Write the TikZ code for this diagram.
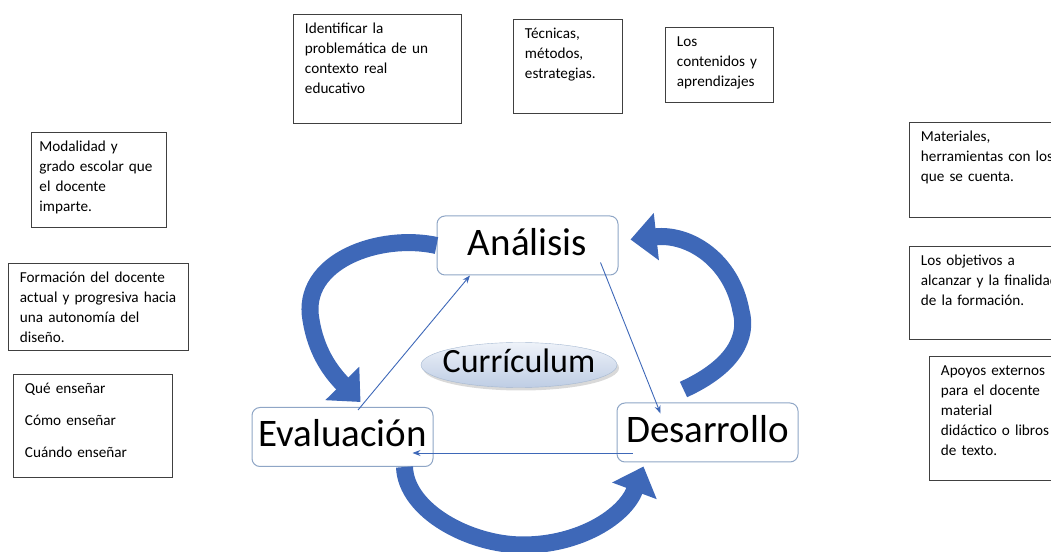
\documentclass[tikz,border=0pt]{standalone}
\usepackage{fontspec}
\setmainfont{Carlito}
\usetikzlibrary{arrows.meta,shapes.geometric,shadows}
\definecolor{azul}{RGB}{62,104,184}
\definecolor{bordeetapa}{RGB}{143,166,198}
\definecolor{elipsearriba}{RGB}{238,242,249}
\definecolor{elipseabajo}{RGB}{190,205,228}
\begin{document}
\begin{tikzpicture}[x=1pt,y=1pt,
caja/.style={draw=black!75, line width=0.9pt, anchor=north west, align=left, inner xsep=11.5pt, inner ysep=7pt, text height=12pt, font=\fontsize{15.2}{20}\selectfont},
etapa/.style={draw=bordeetapa, line width=1pt, fill=white, rounded corners=8pt, minimum width=181pt, minimum height=59pt, inner xsep=4pt, text height=26pt, text depth=6pt, font=\fontsize{39}{44}\selectfont},
curri/.style={ellipse, draw=bordeetapa!80, top color=elipsearriba, bottom color=elipseabajo, drop shadow={opacity=0.3,shadow xshift=2pt,shadow yshift=-3pt}, minimum width=196pt, minimum height=45pt, inner sep=0pt, text height=22pt, text depth=6pt, font=\fontsize{34}{40}\selectfont},
flecha/.style={draw=azul, line width=0.9pt, -{Stealth[length=8pt,width=6pt]}},
flechagrande/.style={draw=azul, line width=17pt, -{Triangle[length=26pt,width=46pt]}}]
\useasboundingbox (0,0) rectangle (1051,551);

\node[caja, text width=145pt, text depth=83pt] (identificar) at (293,537) {Identificar la\\problemática de un\\contexto real\\educativo};
\node[caja, text width=86pt, text depth=68pt] (tecnicas) at (513,532) {Técnicas,\\métodos,\\estrategias.};
\node[caja, text width=85pt, text depth=49pt] (contenidos) at (665,524) {Los\\contenidos y\\aprendizajes};
\node[caja, text width=119pt, inner xsep=8pt, text depth=69pt] (modalidad) at (31,419) {Modalidad y\\grado escolar que\\el docente\\imparte.};
\node[caja, text width=157pt, text depth=61pt] (formacion) at (8,288) {Formación del docente\\actual y progresiva hacia\\una autonomía del\\diseño.};
\node[caja, text width=136pt, text depth=77pt, font=\fontsize{15.2}{32}\selectfont] (ensenar) at (13,177) {Qué enseñar\\Cómo enseñar\\Cuándo enseñar};
\node[caja, text width=157pt, text depth=69pt] (materiales) at (909,429) {Materiales,\\herramientas con los\\que se cuenta.};
\node[caja, text width=157pt, text depth=67pt] (objetivos) at (909,305) {Los objetivos a\\alcanzar y la finalidad\\de la formación.};
\node[caja, text width=127pt, text depth=98pt] (apoyos) at (929,195) {Apoyos externos\\para el docente\\material\\didáctico o libros\\de texto.};

\node[etapa] (analisis) at (527.5,305.5) {Análisis};
\node[etapa] (evaluacion) at (342.5,114) {Evaluación};
\node[etapa] (desarrollo) at (707.5,118.5) {Desarrollo};
\node[curri] (curriculum) at (519,186) {\makebox[0pt]{Currículum}};

\draw[flechagrande] (analisis.west) .. controls (380,318) and (300,290) .. (311,231) .. controls (316,200) and (330,180) .. ([xshift=18pt,yshift=5pt]evaluacion.north);
\draw[flechagrande] ([shift={(-24,13)}]desarrollo.north) .. controls (735,185) and (748,215) .. (741,240) .. controls (732,290) and (690,318) .. ([xshift=12pt,yshift=6pt]analisis.east);
\draw[flechagrande] ([xshift=62pt]evaluacion.south) .. controls (406,40) and (470,6) .. (523,6) .. controls (580,6) and (625,35) .. ([xshift=-64pt,yshift=-4pt]desarrollo.south);

\draw[flecha] ([xshift=15.5pt,yshift=-3pt]evaluacion.north) -- ([xshift=-57.5pt]analisis.south);
\draw[flecha] ([shift={(-18,13)}]analisis.south east) -- ([shift={(44,-11)}]desarrollo.north west);
\draw[flecha] ([shift={(16,-20.5)}]desarrollo.west) -- ([shift={(-21,-16)}]evaluacion.east);
\end{tikzpicture}
\end{document}
